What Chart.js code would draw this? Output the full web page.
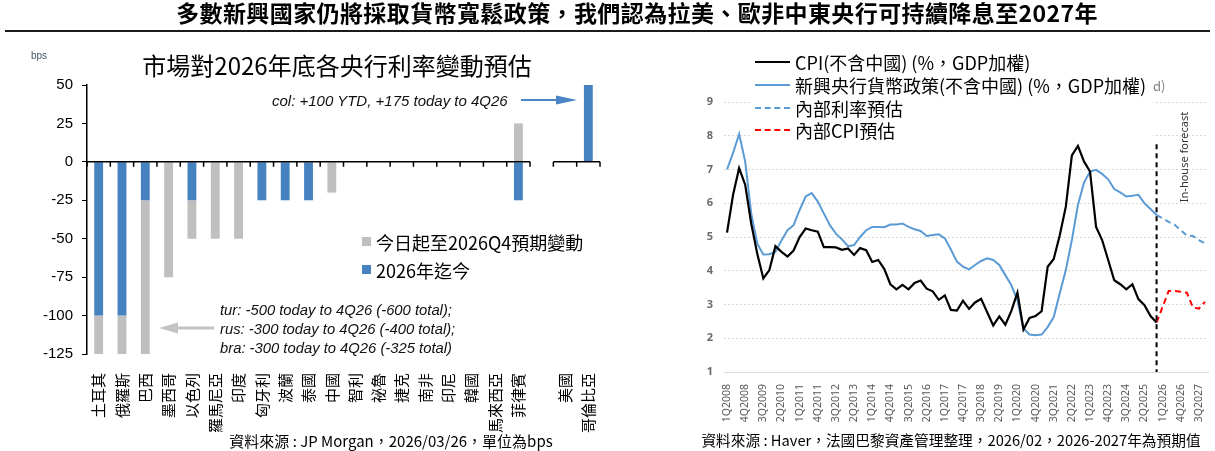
<!DOCTYPE html>
<html lang="zh-Hant">
<head>
<meta charset="utf-8">
<title>新興國家貨幣政策</title>
<script src="https://cdn.jsdelivr.net/npm/chart.js@4.4.1/dist/chart.umd.min.js"></script>
<style>
  body { margin: 0; background: #fff; }
  #page { position: relative; width: 1215px; height: 451px; overflow: hidden; background: #fff;
          font-family: 'Noto Sans CJK TC', 'Noto Sans', sans-serif; color: #000; }
  .box { position: absolute; top: 0; height: 451px; }
  .txt { position: absolute; white-space: nowrap; line-height: 1; transform: translateY(-50%); }
  .mid { transform: translate(-50%, -50%); }
  .note { font-family: 'Liberation Sans', Arial, sans-serif; font-style: italic; font-size: 14.8px; color: #111; }
  .sq { position: absolute; width: 9px; height: 9px; }
  .ln { position: absolute; left: 755px; width: 35px; height: 0; }
</style>
</head>
<body>
<div id="page">
  <div class="box" style="left:0;width:610px"><canvas id="barChart"></canvas></div>
  <div class="box" style="left:690px;width:525px"><canvas id="lineChart"></canvas></div>

  <!-- page title -->
  <div class="txt mid" style="left:637px;top:12px;font-size:23px;font-weight:700;letter-spacing:0.4px">多數新興國家仍將採取貨幣寬鬆政策，我們認為拉美、歐非中東央行可持續降息至2027年</div>
  <div style="position:absolute;left:5px;top:30px;width:1205px;height:2px;background:#1a1a1a"></div>

  <!-- left chart texts -->
  <div class="txt" style="left:31px;top:56px;font-size:10px;color:#44546a;font-family:'Liberation Sans',Arial,sans-serif">bps</div>
  <div class="txt mid" style="left:337px;top:65px;font-size:24px">市場對2026年底各央行利率變動預估</div>
  <div class="txt note" style="left:272px;top:100px;font-size:15px">col: +100 YTD, +175 today to 4Q26</div>
  <div class="txt note" style="left:220px;top:310px">tur: -500 today to 4Q26 (-600 total);</div>
  <div class="txt note" style="left:220px;top:329px">rus: -300 today to 4Q26 (-400 total);</div>
  <div class="txt note" style="left:220px;top:348px">bra: -300 today to 4Q26 (-325 total)</div>
  <div class="sq" style="left:362px;top:237px;background:#bfbfbf"></div>
  <div class="txt" style="left:376px;top:242px;font-size:18px">今日起至2026Q4預期變動</div>
  <div class="sq" style="left:362px;top:265px;background:#4682c0"></div>
  <div class="txt" style="left:376px;top:270px;font-size:18px">2026年迄今</div>
  <div class="txt mid" style="left:391px;top:440px;font-size:15px">資料來源 : JP Morgan，2026/03/26，單位為bps</div>

  <svg width="1215" height="451" style="position:absolute;left:0;top:0">
    <line x1="521" y1="100" x2="558" y2="100" stroke="#4a86c5" stroke-width="2"/>
    <polygon points="577,100 556,95.5 556,104.5" fill="#4a86c5"/>
    <line x1="214" y1="328" x2="176" y2="328" stroke="#c3c3c3" stroke-width="3"/>
    <polygon points="159,328 178,322.5 178,333.5" fill="#c3c3c3"/>
  </svg>

  <!-- right chart legend and notes -->
  <div style="position:absolute;left:752px;top:50px;width:401px;height:92px;background:#fff"></div>
  <div class="ln" style="top:61px;border-top:2px solid #000"></div>
  <div class="txt" style="left:795px;top:62px;font-size:18px">CPI(不含中國) (%，GDP加權)</div>
  <div class="ln" style="top:84px;border-top:2px solid #5b9bd5"></div>
  <div class="txt" style="left:795px;top:85px;font-size:18px">新興央行貨幣政策(不含中國) (%，GDP加權)</div>
  <div class="ln" style="top:107px;border-top:2px dashed #5b9bd5"></div>
  <div class="txt" style="left:795px;top:108px;font-size:18px">內部利率預估</div>
  <div class="ln" style="top:129px;border-top:2px dashed #ff0000"></div>
  <div class="txt" style="left:795px;top:130px;font-size:18px">內部CPI預估</div>
  <div class="txt" style="left:1153px;top:85px;font-size:13px;color:#808080">d)</div>
  <div class="txt" style="left:1183px;top:157px;font-size:11px;color:#333;font-family:'Noto Sans',sans-serif;transform:translate(-50%,-50%) rotate(-90deg)">In-house forecast</div>
  <div class="txt mid" style="left:951px;top:440px;font-size:14.7px">資料來源 : Haver，法國巴黎資產管理整理，2026/02，2026-2027年為預期值</div>
</div>

<script>
// ---- left chart data (bps) ----
const categories = ['土耳其', '俄羅斯', '巴西', '墨西哥', '以色列', '羅馬尼亞', '印度', '匈牙利', '波蘭', '泰國',
  '中國', '智利', '祕魯', '捷克', '南非', '印尼', '韓國', '馬來西亞', '菲律賓', '', '美國', '哥倫比亞'];
const ytdChange = [-100, -100, -25, 0, -25, 0, 0, -25, -25, -25, 0, 0, 0, 0, 0, 0, 0, 0, -25, null, 0, 100];
const expectedChange = [-500, -300, -300, -75, -25, -50, -50, 0, 0, 0, -20, 0, 0, 0, 0, 0, 0, 0, 25, null, 0, 175];
const bpsTicks = [50, 25, 0, -25, -50, -75, -100, -125];

// ---- right chart data (%) ----
const quarters = [];
for (let yr = 2008; yr <= 2027; yr++) for (let q = 1; q <= 4; q++) quarters.push(q + 'Q' + yr);

const cpi = [5.13, 6.25, 7.04, 6.55, 5.4, 4.5, 3.77, 4.02, 4.73, 4.56, 4.42, 4.6, 5.0, 5.25, 5.2, 5.16,
  4.7, 4.7, 4.69, 4.62, 4.66, 4.47, 4.67, 4.61, 4.26, 4.32, 4.05, 3.6, 3.45, 3.58, 3.45, 3.64,
  3.71, 3.47, 3.39, 3.14, 3.27, 2.84, 2.82, 3.11, 2.87, 3.06, 3.17, 2.77, 2.38, 2.65, 2.4, 2.81,
  3.35, 2.26, 2.6, 2.66, 2.8, 4.12, 4.35, 5.05, 5.9, 7.42, 7.7, 7.24, 6.94, 5.3, 4.91, 4.32,
  3.72, 3.6, 3.45, 3.6, 3.16, 2.98, 2.66, 2.47];
const policyRate = [7.0, 7.49, 8.05, 7.24, 5.7, 4.8, 4.48, 4.49, 4.56, 4.9, 5.2, 5.35, 5.8, 6.2, 6.3, 6.05,
  5.7, 5.35, 5.1, 4.93, 4.73, 4.76, 5.0, 5.2, 5.3, 5.3, 5.29, 5.37, 5.37, 5.4, 5.3, 5.23,
  5.18, 5.03, 5.06, 5.08, 4.96, 4.63, 4.27, 4.12, 4.04, 4.17, 4.29, 4.37, 4.32, 4.17, 3.87, 3.57,
  3.13, 2.29, 2.11, 2.09, 2.11, 2.33, 2.63, 3.33, 4.02, 4.91, 5.95, 6.61, 6.94, 6.99, 6.87, 6.71,
  6.42, 6.32, 6.2, 6.22, 6.25, 6.0, 5.83, 5.65];
// forecasts start at the last actual quarter (4Q2025)
const forecastStart = 71;
const rateForecast = [5.65, 5.55, 5.45, 5.36, 5.2, 5.04, 5.03, 4.91, 4.81];
const cpiForecast = [2.47, 2.93, 3.4, 3.4, 3.38, 3.35, 2.91, 2.88, 3.08];
const forecastLineTop = 7.75;

const cjk = "'Noto Sans CJK TC', 'Noto Sans', sans-serif";
Chart.defaults.animation = false;

// zero line with category tick marks, broken where the label is empty
const zeroAxis = {
  id: 'zeroAxis',
  afterDatasetsDraw(chart) {
    const { ctx, scales: { x, y } } = chart;
    const y0 = y.getPixelForValue(0);
    const half = (x.getPixelForValue(1) - x.getPixelForValue(0)) / 2;
    const groups = [];
    categories.forEach((c, i) => {
      if (!c) return;
      const last = groups[groups.length - 1];
      if (last && last[1] === i - 1) last[1] = i; else groups.push([i, i]);
    });
    ctx.save();
    ctx.strokeStyle = '#000';
    ctx.lineWidth = 1.5;
    ctx.beginPath();
    groups.forEach(([a, b]) => {
      ctx.moveTo(x.getPixelForValue(a) - half, y0);
      ctx.lineTo(x.getPixelForValue(b) + half, y0);
      for (let i = a; i <= b + 1; i++) {
        const px = x.getPixelForValue(i) - half;
        ctx.moveTo(px, y0);
        ctx.lineTo(px, y0 + 5);
      }
    });
    ctx.stroke();
    ctx.restore();
  }
};

new Chart(document.getElementById('barChart'), {
  type: 'bar',
  data: {
    labels: categories,
    datasets: [
      { label: '2026年迄今', data: ytdChange, backgroundColor: '#4682c0' },
      { label: '今日起至2026Q4預期變動', data: expectedChange, backgroundColor: '#bfbfbf' }
    ]
  },
  options: {
    responsive: true,
    maintainAspectRatio: false,
    layout: { padding: { top: 85, right: 10, left: 0, bottom: 0 } },
    datasets: { bar: { categoryPercentage: 1, barPercentage: 0.38 } },
    plugins: { legend: { display: false }, tooltip: { enabled: false } },
    scales: {
      x: {
        stacked: true,
        grid: { display: false },
        border: { display: false },
        ticks: { autoSkip: false, minRotation: 90, maxRotation: 90, padding: 11, color: '#000',
                 font: { family: cjk, size: 15 } },
        afterFit: s => { s.height = 97; s.paddingRight = 0; s.paddingLeft = 0; }
      },
      y: {
        stacked: true,
        min: -125,
        max: 50,
        afterBuildTicks: s => { s.ticks = bpsTicks.map(v => ({ value: v })); },
        grid: { drawOnChartArea: false, drawTicks: true, tickLength: 5, color: '#000' },
        border: { display: true, color: '#000', width: 1.5 },
        ticks: { padding: 9, color: '#000', font: { family: "'Liberation Sans', Arial, sans-serif", size: 15 } },
        afterFit: s => { s.width = 87; }
      }
    }
  },
  plugins: [zeroAxis]
});

// vertical dashed line marking the start of the in-house forecast
const forecastMarker = {
  id: 'forecastMarker',
  afterDatasetsDraw(chart) {
    const { ctx, scales: { x, y } } = chart;
    const px = x.getPixelForValue(forecastStart);
    ctx.save();
    ctx.strokeStyle = '#000';
    ctx.lineWidth = 2;
    ctx.setLineDash([5, 4]);
    ctx.beginPath();
    ctx.moveTo(px, y.getPixelForValue(forecastLineTop));
    ctx.lineTo(px, y.getPixelForValue(1));
    ctx.stroke();
    ctx.restore();
  }
};

const pad = (arr, start) => quarters.map((_, i) => (i >= start && i - start < arr.length) ? arr[i - start] : null);

new Chart(document.getElementById('lineChart'), {
  type: 'line',
  data: {
    labels: quarters,
    datasets: [
      { label: 'CPI(不含中國) (%，GDP加權)', data: pad(cpi, 0), borderColor: '#000', borderWidth: 2.2 },
      { label: '新興央行貨幣政策(不含中國) (%，GDP加權)', data: pad(policyRate, 0), borderColor: '#5b9bd5', borderWidth: 2 },
      { label: '內部利率預估', data: pad(rateForecast, forecastStart), borderColor: '#5b9bd5', borderWidth: 2, borderDash: [6, 4] },
      { label: '內部CPI預估', data: pad(cpiForecast, forecastStart), borderColor: '#ff0000', borderWidth: 2, borderDash: [6, 4] }
    ]
  },
  options: {
    responsive: true,
    maintainAspectRatio: false,
    layout: { padding: { top: 102, right: 7, left: 0, bottom: 0 } },
    elements: { point: { radius: 0 }, line: { tension: 0 } },
    plugins: { legend: { display: false }, tooltip: { enabled: false } },
    scales: {
      x: {
        offset: true,
        grid: { display: false },
        border: { display: true, color: '#d9d9d9', width: 1 },
        ticks: { autoSkip: false, minRotation: 90, maxRotation: 90, padding: 4, color: '#595959',
                 font: { family: "'Noto Sans', sans-serif", size: 10.5 },
                 callback: (v, i) => (i % 3 === 0 ? quarters[i] : null) },
        afterFit: s => { s.height = 79; s.paddingRight = 0; s.paddingLeft = 0; }
      },
      y: {
        min: 1,
        max: 9,
        ticks: { stepSize: 1, padding: 11, color: '#6b6b6b', font: { family: "'Noto Sans', sans-serif", size: 11, weight: 'bold' } },
        grid: { color: '#d9d9d9', drawTicks: false },
        border: { display: false, dash: [2, 2] },
        afterFit: s => { s.width = 34; }
      }
    }
  },
  plugins: [forecastMarker]
});
</script>
</body>
</html>
